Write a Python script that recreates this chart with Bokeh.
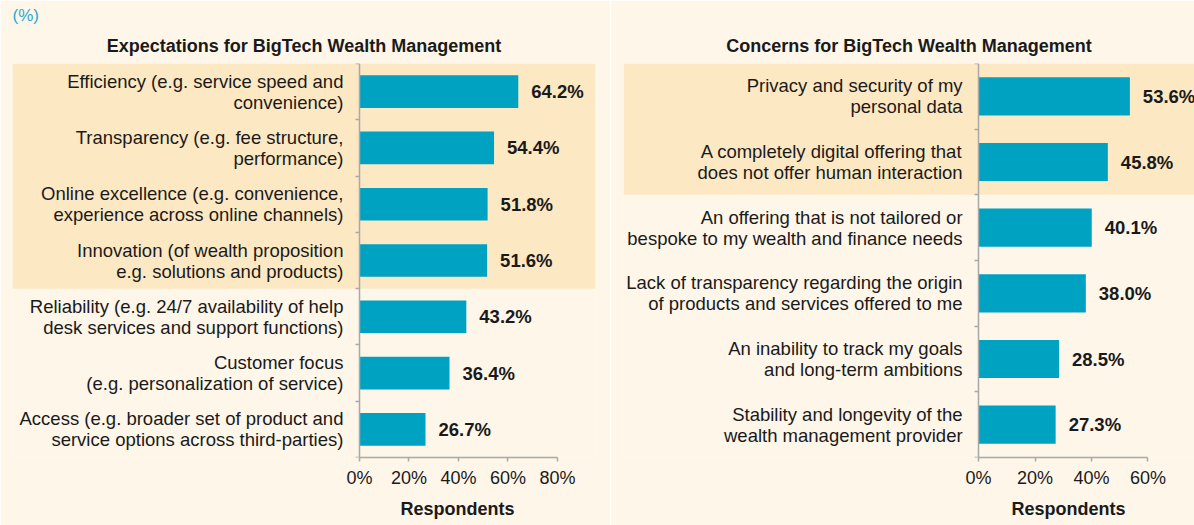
from bokeh.plotting import figure
from bokeh.layouts import row
from bokeh.models import (ColumnDataSource, BoxAnnotation, LinearAxis, FixedTicker,
                          PrintfTickFormatter, CustomJSTickFormatter, Title)
from bokeh.core.properties import value
from bokeh.embed import file_html
from bokeh.resources import INLINE

left_title = "Expectations for BigTech Wealth Management"
left_cats = [
    "Efficiency (e.g. service speed and\nconvenience)",
    "Transparency (e.g. fee structure,\nperformance)",
    "Online excellence (e.g. convenience,\nexperience across online channels)",
    "Innovation (of wealth proposition\ne.g. solutions and products)",
    "Reliability (e.g. 24/7 availability of help\ndesk services and support functions)",
    "Customer focus\n(e.g. personalization of service)",
    "Access (e.g. broader set of product and\nservice options across third-parties)",
]
left_vals = [64.2, 54.4, 51.8, 51.6, 43.2, 36.4, 26.7]
left_ticks = [0, 20, 40, 60, 80]
left_highlight = 4

right_title = "Concerns for BigTech Wealth Management"
right_cats = [
    "Privacy and security of my\npersonal data",
    "A completely digital offering that\ndoes not offer human interaction",
    "An offering that is not tailored or\nbespoke to my wealth and finance needs",
    "Lack of transparency regarding the origin\nof products and services offered to me",
    "An inability to track my goals\nand long-term ambitions",
    "Stability and longevity of the\nwealth management provider",
]
right_vals = [53.6, 45.8, 40.1, 38.0, 28.5, 27.3]
right_ticks = [0, 20, 40, 60]
right_highlight = 2

unit_label = "(%)"
axis_title = "Respondents"

BG = "#FDF6E9"
HL = "#FDE8C4"
BAR = "#00A2C2"
TXT = "#1a1a1a"
AX = "#a9a9a9"
FONT = "Liberation Sans"


def make_panel(top_text, title, cats, vals, ticks, n_hl, width, x_range, borders,
               label_offset):
    n = len(cats)
    ys = [n - i - 0.5 for i in range(n)]
    src = ColumnDataSource(dict(y=ys, v=vals, cat=cats,
                                lab=[f"{v:.1f}%" for v in vals],
                                zero=[0] * n))
    p = figure(width=width, height=525, x_range=x_range, y_range=(0, n),
               output_backend="svg", toolbar_location=None,
               y_axis_location=None,
               min_border_left=borders[0], min_border_right=borders[1],
               min_border_top=63, min_border_bottom=68)
    p.background_fill_color = BG
    p.border_fill_color = BG
    p.outline_line_color = None
    p.grid.visible = False

    # outermost small title "(%)"
    p.title.text = top_text
    p.title.align = "left"
    p.title.text_font = FONT
    p.title.text_font_size = "17px"
    p.title.text_font_style = "normal"
    p.title.text_color = "#2AAAD2"
    p.title.standoff = 1

    # chart title, nearest the frame
    p.add_layout(Title(text=title, align="center", text_font=FONT, text_font_size="18px",
                       text_font_style="bold", text_color=TXT, standoff=16), "above")

    # "Respondents" centred under the axis extent
    p.add_layout(Title(text=axis_title, align="left", offset=label_offset,
                       text_font=FONT, text_font_size="18px", text_font_style="bold",
                       text_color=TXT, standoff=13), "below")

    p.add_layout(BoxAnnotation(bottom=n - n_hl, top=n, fill_color=HL, fill_alpha=1,
                               line_color=None, level="underlay"))

    p.hbar(y="y", right="v", left=0, height=0.58, source=src, color=BAR, line_color=None)

    p.text(x="zero", y="y", text="cat", source=src, x_offset=-16,
           text_align="right", text_baseline="middle", text_color=TXT,
           text_font=value(FONT), text_font_size="18.5px", text_line_height=1.0)
    p.text(x="v", y="y", text="lab", source=src, x_offset=13,
           text_align="left", text_baseline="middle", text_color=TXT,
           text_font=value(FONT), text_font_size="18.5px", text_font_style="bold")

    xa = p.xaxis[0]
    xa.bounds = (ticks[0], ticks[-1])
    xa.ticker = FixedTicker(ticks=ticks)
    xa.formatter = PrintfTickFormatter(format="%d%%")
    xa.axis_line_color = AX
    xa.axis_line_width = 1.5
    xa.major_tick_line_color = AX
    xa.major_tick_line_width = 1.5
    xa.major_tick_out = 4
    xa.major_tick_in = 0
    xa.minor_tick_line_color = None
    xa.major_label_text_font = FONT
    xa.major_label_text_font_size = "18px"
    xa.major_label_text_color = TXT
    xa.major_label_standoff = 6

    ya = LinearAxis(fixed_location=0, ticker=FixedTicker(ticks=list(range(n + 1))),
                    formatter=CustomJSTickFormatter(code="return ''"),
                    major_label_standoff=0,
                    axis_line_color=AX, axis_line_width=1.5,
                    major_tick_line_color=AX, major_tick_line_width=1.5,
                    major_tick_out=4, major_tick_in=0, minor_tick_line_color=None)
    p.add_layout(ya, "left")
    return p


# left frame: x 12..595, zero at 359, 2.475 px per unit
lp = make_panel(unit_label, left_title, left_cats, left_vals, left_ticks, left_highlight,
                610, (-140.2, 95.4), (12, 15), 388)

# right frame: x 623..1194, zero at 978, 2.822 px per unit
rp = make_panel("", right_title, right_cats, right_vals, right_ticks, right_highlight,
                584, (-125.8, 76.5), (13, 0), 388)

layout = row(lp, rp)
open("out.html", "w").write(file_html(layout, INLINE))
